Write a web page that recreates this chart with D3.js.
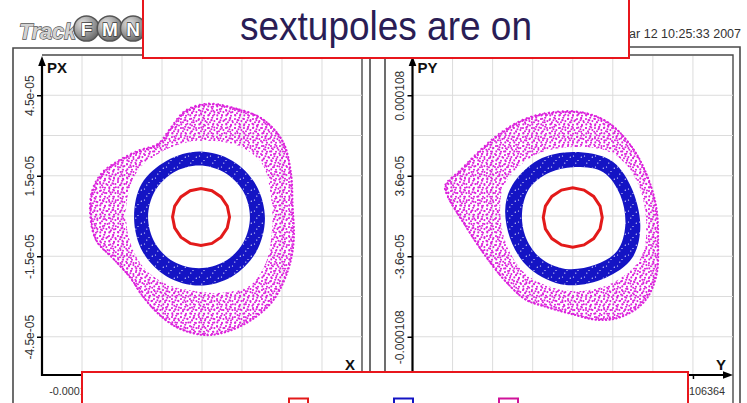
<!DOCTYPE html>
<html><head><meta charset="utf-8">
<script src="https://cdn.jsdelivr.net/npm/d3@7"></script>
<style>
html,body{margin:0;padding:0;background:#fff;}
svg{display:block;font-family:"Liberation Sans",Arial,Helvetica,sans-serif;}
</style></head><body>
<svg id="chart" width="747" height="403"></svg>
<script>
// Phase-space tracking output: horizontal (X,PX) and vertical (Y,PY) planes.
// Every coordinate below is given in units of 1e-6.

// ---- axis ticks ----
const xTickValues  = [-106.364, -35.4545, 35.4545, 106.364];
const xTickLabels  = ["-0.000106364", "-3.54545e-05", "3.54545e-05", "0.000106364"];
const pxTickValues = [-45, -15, 15, 45];
const pxTickLabels = ["-4.5e-05", "-1.5e-05", "1.5e-05", "4.5e-05"];
const yTickValues  = [-106.364, -35.4545, 35.4545, 106.364];
const yTickLabels  = ["-0.000106364", "-3.54545e-05", "3.54545e-05", "0.000106364"];
const pyTickValues = [-108, -36, 36, 108];
const pyTickLabels = ["-0.000108", "-3.6e-05", "3.6e-05", "0.000108"];
const xGridValues  = [-106.364, -70.909, -35.4545, 0, 35.4545, 70.909, 106.364];
const pxGridValues = [-45, -30, -15, 0, 15, 30, 45];
const pyGridValues = [-108, -72, -36, 0, 36, 72, 108];

// ---- horizontal plane (X, PX) ----
const xRed = [[24.4,-0.4],[22.4,3.7],[16.9,7.1],[8.8,9.4],[-0.9,10.2],[-10.5,9.4],[-18.7,7.1],[-24.2,3.7],
  [-26.1,-0.4],[-24.2,-4.4],[-18.7,-7.9],[-10.5,-10.2],[-0.9,-11.0],[8.8,-10.2],[16.9,-7.9],[22.4,-4.4]];
const xBlueOuter = [[55.8,-0.9],[48.0,11.5],[26.8,20.6],[-2.2,24.0],[-31.3,20.6],[-53.5,12.0],
  [-60.2,-0.9],[-52.5,-13.4],[-31.3,-22.5],[-2.2,-25.9],[26.8,-22.5],[48.0,-13.4]];
const xBlueInner = [[42.5,-0.4],[36.5,9.2],[19.9,16.2],[-2.7,18.8],[-25.3,16.2],[-41.8,9.2],
  [-47.8,-0.4],[-41.8,-10.0],[-25.3,-17.0],[-2.7,-19.5],[19.9,-17.0],[36.5,-10.0]];
const xMagentaOuter = [[4.4,41.9],[31.0,40.0],[53.2,36.3],[70.9,28.1],[78.0,16.9],[79.7,3.9],[80.6,-9.1],
  [75.3,-20.3],[62.0,-31.4],[44.3,-38.1],[23.0,-42.6],[2.7,-44.1],[-19.5,-41.9],[-37.2,-37.0],
  [-53.2,-29.6],[-63.8,-22.9],[-78.9,-15.8],[-93.9,-9.1],[-99.2,0.2],[-97.5,9.5],[-88.6,16.2],
  [-74.4,20.6],[-56.7,24.4],[-39.0,27.0],[-28.4,32.6],[-15.1,39.2]];
const xMagentaInner = [[2.7,28.1],[33.7,25.9],[53.2,19.5],[61.1,7.6],[62.0,-5.4],[56.7,-17.3],
  [42.5,-25.9],[20.4,-28.5],[-3.5,-28.1],[-28.4,-25.9],[-47.8,-21.0],[-61.1,-12.8],[-67.3,-1.7],
  [-64.7,9.5],[-54.9,18.0],[-37.2,23.6],[-17.7,27.0]];

// ---- vertical plane (Y, PY) ----
const yRed = [[26.1,-1.4],[24.2,8.8],[18.5,17.5],[10.0,23.2],[0,25.2],[-10.0,23.2],[-18.5,17.5],[-24.2,8.8],
  [-26.1,-1.4],[-24.2,-11.5],[-18.5,-20.2],[-10.0,-25.9],[0,-27.9],[10.0,-25.9],[18.5,-20.2],[24.2,-11.5]];
const yBlueOuter = [[0.4,57.2],[33.2,50.0],[50.9,27.5],[59.8,-8.6],[52.7,-37.4],[28.8,-55.4],
  [-6.6,-61.7],[-37.7,-47.3],[-53.6,-24.8],[-59.8,5.0],[-53.6,27.5],[-30.6,50.0]];
const yBlueInner = [[0.4,43.7],[27.0,39.2],[42.1,18.5],[46.5,-8.6],[39.4,-31.1],[19.9,-43.7],
  [-6.6,-47.3],[-28.8,-37.4],[-42.1,-17.6],[-44.7,5.0],[-37.7,25.7],[-19.9,39.2]];
const yMagentaOuter = [[-22.6,92.3],[6.6,93.2],[30.6,84.2],[50.9,63.5],[64.2,39.2],[73.1,9.5],
  [74.9,-22.1],[73.1,-53.6],[62.5,-76.1],[42.1,-89.6],[21.7,-92.3],[-2.2,-86.9],[-24.4,-80.6],
  [-42.1,-74.3],[-59.8,-58.1],[-77.5,-35.6],[-95.2,-8.6],[-111.2,18.5],[-113.0,27.5],[-99.7,41.0],
  [-82.0,59.0],[-64.2,74.3],[-44.7,86.0]];
const yMagentaInner = [[0.4,61.7],[35.0,56.3],[56.3,32.0],[65.1,-5.9],[59.8,-38.3],[35.0,-59.9],
  [-2.2,-67.1],[-39.4,-53.6],[-57.1,-29.3],[-64.2,3.2],[-59.8,29.3],[-33.2,54.5]];

const turnColors = {red: "#e31a1a", blue: "#1414c4", magenta: "#dc22dc"};

const svg = d3.select("#chart");
const defs = svg.append("defs");

// stipple textures for the scattered turns
function dotPattern(id, size, color, dots, r) {
  const p = defs.append("pattern").attr("id", id).attr("patternUnits", "userSpaceOnUse")
    .attr("width", size).attr("height", size);
  p.selectAll("circle").data(dots).join("circle")
    .attr("cx", d => d[0]).attr("cy", d => d[1]).attr("r", r).attr("fill", color);
}
dotPattern("magA", 9, turnColors.magenta, [[1,2],[5.2,0.8],[3,5.2],[7.4,4.1],[6,7.8],[1.3,7.4],[4.4,3.3]], 1.05);
dotPattern("magB", 13, turnColors.magenta, [[3.5,3],[10,8.6],[1,11],[9.2,1.8],[6.3,10.6],[11.8,5.2],[5.4,6.7]], 1.0);
dotPattern("blueSpeck", 11, "#ffffff", [[1.5,2],[6,6.5],[9.3,3.2],[3.8,9.1]], 0.6);

const radial = defs.append("radialGradient").attr("id", "ball").attr("cx", "35%").attr("cy", "30%").attr("r", "75%");
radial.append("stop").attr("offset", "0%").attr("stop-color", "#e2e2e2");
radial.append("stop").attr("offset", "100%").attr("stop-color", "#666");

const frameColor = "#4a4a4a";
const gridColor = "#dcdcdc";

const panels = [
  {hLabel: "X", vLabel: "PX", left: 42, right: 362, top: 55, bottom: 377, axisY: 375,
   xDomain: 141.82, yDomain: 60,
   xTicks: xTickValues, xLabels: xTickLabels, yTicks: pxTickValues, yLabels: pxTickLabels,
   xGrid: xGridValues, yGrid: pxGridValues,
   red: xRed, blueO: xBlueOuter, blueI: xBlueInner, magO: xMagentaOuter, magI: xMagentaInner,
   outer: [13, 48, 370], innerRight: 362},
  {hLabel: "Y", vLabel: "PY", left: 412.5, right: 733, top: 55, bottom: 377, axisY: 375,
   xDomain: 141.82, yDomain: 144,
   xTicks: yTickValues, xLabels: yTickLabels, yTicks: pyTickValues, yLabels: pyTickLabels,
   xGrid: xGridValues, yGrid: pyGridValues,
   red: yRed, blueO: yBlueOuter, blueI: yBlueInner, magO: yMagentaOuter, magI: yMagentaInner,
   outer: [385, 47, 740], innerRight: 733}
];

panels.forEach(p => {
  const g = svg.append("g");
  const x = d3.scaleLinear().domain([-p.xDomain, p.xDomain]).range([p.left, p.right]);
  const y = d3.scaleLinear().domain([-p.yDomain, p.yDomain]).range([p.bottom, p.top]);

  // window frame
  const [ox0, oy0, ox1] = p.outer;
  g.append("path").attr("fill", "none").attr("stroke", frameColor).attr("stroke-width", 1.6)
    .attr("d", `M${ox0},403 V${oy0} H${ox1} V403`);
  g.append("path").attr("fill", "none").attr("stroke", frameColor).attr("stroke-width", 1.4)
    .attr("d", `M${p.left},${p.top} H${p.innerRight} V403`);

  // grid
  g.append("g").selectAll("line").data(p.xGrid).join("line")
    .attr("x1", d => x(d)).attr("x2", d => x(d)).attr("y1", p.top + 1).attr("y2", p.axisY)
    .attr("stroke", gridColor).attr("stroke-width", 1);
  g.append("g").selectAll("line").data(p.yGrid).join("line")
    .attr("y1", d => y(d)).attr("y2", d => y(d)).attr("x1", p.left).attr("x2", p.innerRight)
    .attr("stroke", gridColor).attr("stroke-width", 1);

  // turns
  const ring = d3.line().x(d => x(d[0])).y(d => y(d[1])).curve(d3.curveCatmullRomClosed.alpha(0.5));
  const band = (o, i) => ring(o) + ring(i.slice().reverse());
  g.append("path").attr("d", band(p.magO, p.magI)).attr("fill", "url(#magA)").attr("fill-rule", "evenodd");
  g.append("path").attr("d", band(p.magO, p.magI)).attr("fill", "url(#magB)").attr("fill-rule", "evenodd");
  // the outer rim of the scattered turn is denser
  g.append("path").attr("d", ring(p.magO)).attr("fill", "none").attr("stroke", turnColors.magenta)
    .attr("stroke-width", 2).attr("stroke-linecap", "round").attr("stroke-dasharray", "0.4 3.1")
    .attr("transform", "translate(0.8,0.8)");
  g.append("path").attr("d", ring(p.magO)).attr("fill", "none").attr("stroke", turnColors.magenta)
    .attr("stroke-width", 1.8).attr("stroke-linecap", "round").attr("stroke-dasharray", "0.3 4.3")
    .attr("stroke-dashoffset", 2);
  g.append("path").attr("d", band(p.blueO, p.blueI)).attr("fill", turnColors.blue).attr("fill-rule", "evenodd");
  g.append("path").attr("d", band(p.blueO, p.blueI)).attr("fill", "url(#blueSpeck)").attr("fill-rule", "evenodd");
  g.append("path").attr("d", d3.line().x(d => x(d[0])).y(d => y(d[1])).curve(d3.curveLinearClosed)(p.red))
    .attr("fill", "none").attr("stroke", turnColors.red).attr("stroke-width", 3);

  // vertical axis
  const ay = g.append("g").attr("transform", `translate(${p.left},0)`)
    .call(d3.axisLeft(y).tickValues(p.yTicks).tickFormat((d, i) => p.yLabels[i]).tickSize(5).tickPadding(8));
  ay.select(".domain").remove();
  ay.selectAll(".tick line").attr("stroke", "#000").attr("stroke-width", 1.5);
  ay.selectAll(".tick text").attr("transform", "rotate(-90)").attr("x", 0).attr("y", -8.5)
    .attr("dy", 0).attr("text-anchor", "middle").attr("font-size", 12).attr("fill", "#333")
    .attr("font-family", "'Liberation Sans', Arial, sans-serif");
  g.append("line").attr("x1", p.left).attr("x2", p.left).attr("y1", p.axisY + 1).attr("y2", 62)
    .attr("stroke", "#000").attr("stroke-width", 2.2);
  g.append("path").attr("fill", "#000")
    .attr("d", `M${p.left},${p.top + 1} L${p.left - 3.8},${p.top + 11} L${p.left + 3.8},${p.top + 11} Z`);

  // horizontal axis
  const ax = g.append("g").attr("transform", `translate(0,${p.axisY})`)
    .call(d3.axisBottom(x).tickValues(p.xTicks).tickFormat((d, i) => p.xLabels[i]).tickSize(4).tickPadding(8));
  ax.select(".domain").remove();
  ax.selectAll(".tick line").attr("stroke", "#000").attr("stroke-width", 1.5);
  ax.selectAll(".tick text").attr("font-size", 10.8).attr("fill", "#333")
    .attr("font-family", "'Liberation Sans', Arial, sans-serif");
  g.append("line").attr("x1", p.left).attr("x2", p.innerRight - 8).attr("y1", p.axisY).attr("y2", p.axisY)
    .attr("stroke", "#000").attr("stroke-width", 2.2);
  g.append("path").attr("fill", "#000")
    .attr("d", `M${p.innerRight},${p.axisY} L${p.innerRight - 10},${p.axisY - 3.8} L${p.innerRight - 10},${p.axisY + 3.8} Z`);

  // axis names
  g.append("text").attr("x", p.left + 5).attr("y", 73).attr("font-weight", "bold").attr("font-size", 15)
    .attr("fill", "#111").text(p.vLabel);
  g.append("text").attr("x", p.innerRight - 12).attr("y", 370).attr("text-anchor", "middle")
    .attr("font-weight", "bold").attr("font-size", 15).attr("fill", "#111").text(p.hLabel);
});

// program logo
const logo = svg.append("g");
logo.append("text").attr("x", 19).attr("y", 39).attr("font-style", "italic").attr("font-weight", "bold")
  .attr("font-size", 22).attr("fill", "#d2d2d2").attr("stroke", "#555").attr("stroke-width", 1.3)
  .attr("paint-order", "stroke").attr("textLength", 57).attr("lengthAdjust", "spacingAndGlyphs").text("Track");
const balls = ["F", "M", "N"];
logo.selectAll("g.ball").data(balls).join("g").attr("class", "ball")
  .attr("transform", (d, i) => `translate(${86.5 + i * 23.3},28.5)`)
  .each(function(d) {
    const b = d3.select(this);
    b.append("circle").attr("r", 12.6).attr("fill", "url(#ball)").attr("stroke", "#555").attr("stroke-width", 1.5);
    b.append("text").attr("text-anchor", "middle").attr("y", 7).attr("font-weight", "bold").attr("font-size", 19)
      .attr("fill", "#fff").attr("stroke", "#3a3a3a").attr("stroke-width", 1.3).attr("paint-order", "stroke").text(d);
  });

// time stamp
svg.append("text").attr("x", 741).attr("y", 38).attr("text-anchor", "end").attr("font-size", 12.5)
  .attr("fill", "#333").text("Mon Mar 12 10:25:33 2007");

// title box
svg.append("rect").attr("x", 143).attr("y", -10).attr("width", 486).attr("height", 68)
  .attr("fill", "#fff").attr("stroke", "#e8161c").attr("stroke-width", 2);
svg.append("text").attr("x", 240).attr("y", 40).attr("font-size", 40).attr("fill", "#2a1d55")
  .attr("textLength", 292).attr("lengthAdjust", "spacingAndGlyphs").text("sextupoles are on");

// legend box
const legendKeys = ["red", "blue", "magenta"];
const legendX = [289, 394, 499];
svg.append("rect").attr("x", 82).attr("y", 372).attr("width", 606).attr("height", 60)
  .attr("fill", "#fff").attr("stroke", "#e8161c").attr("stroke-width", 2);
svg.selectAll("rect.key").data(legendKeys).join("rect").attr("class", "key")
  .attr("x", (d, i) => legendX[i]).attr("y", 398.5).attr("width", 19).attr("height", 19)
  .attr("fill", "#fff").attr("stroke", d => d === "magenta" ? "#d0139a" : turnColors[d]).attr("stroke-width", 2);
</script>
</body></html>
